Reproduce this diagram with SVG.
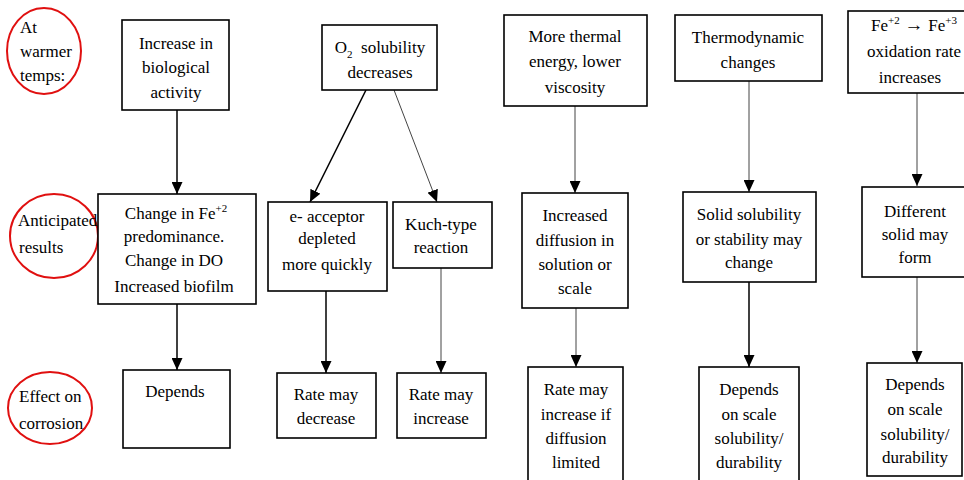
<svg xmlns="http://www.w3.org/2000/svg" width="964" height="480" viewBox="0 0 964 480">
<style>
.box{fill:#fff;stroke:#000;stroke-width:1.6}
.ring{fill:none;stroke:#e01010;stroke-width:2}
.t{font-family:"Liberation Serif","Times New Roman",serif;font-size:17px;fill:#000;text-anchor:middle}
.l{font-family:"Liberation Serif","Times New Roman",serif;font-size:17px;fill:#000;text-anchor:start}
.c{stroke:#000;stroke-width:1.5;fill:none;marker-end:url(#ah)}
.c2{stroke:#444;stroke-width:1;fill:none;marker-end:url(#ah)}
</style>
<defs>
<marker id="ah" markerUnits="userSpaceOnUse" markerWidth="12" markerHeight="11" refX="12" refY="5.5" orient="auto">
<path d="M0,0 L12,5.5 L0,11 z" fill="#000"/>
</marker>
</defs>
<rect width="964" height="480" fill="#fff"/>

<g id="connectors">
<line class="c" x1="177" y1="110" x2="177" y2="194"/>
<line class="c" x1="366" y1="90" x2="310" y2="202"/>
<line class="c2" x1="394" y1="90" x2="437" y2="202"/>
<line class="c2" x1="575" y1="106" x2="575" y2="193"/>
<line class="c2" x1="749" y1="81" x2="749" y2="192"/>
<line class="c2" x1="917" y1="93" x2="917" y2="186"/>
<line class="c" x1="177" y1="304" x2="177" y2="370"/>
<line class="c" x1="326" y1="291" x2="326" y2="373"/>
<line class="c2" x1="441" y1="268" x2="441" y2="373"/>
<line class="c2" x1="576" y1="308" x2="576" y2="367"/>
<line class="c" x1="749" y1="282" x2="749" y2="367"/>
<line class="c2" x1="917" y1="277" x2="917" y2="363"/>
</g>

<g id="label-warmer">
<ellipse class="ring" cx="44" cy="51" rx="37" ry="43"/>
<text class="l" x="20" y="33">At</text>
<text class="l" x="20" y="57">warmer</text>
<text class="l" x="20" y="81">temps:</text>
</g>
<g id="label-anticipated">
<ellipse class="ring" cx="54" cy="236" rx="44" ry="42"/>
<text class="l" x="18" y="226">Anticipated</text>
<text class="l" x="19" y="253">results</text>
</g>
<g id="label-effect">
<ellipse class="ring" cx="50" cy="408" rx="42" ry="36"/>
<text class="l" x="19" y="402">Effect on</text>
<text class="l" x="19" y="429">corrosion</text>
</g>

<g id="n-bio">
<rect class="box" x="122" y="20" width="107" height="90"/>
<text class="t" x="176" y="49">Increase in</text>
<text class="t" x="176" y="73">biological</text>
<text class="t" x="176" y="98">activity</text>
</g>
<g id="n-o2">
<rect class="box" x="322" y="25" width="115" height="65"/>
<text class="t" x="380" y="53">O<tspan font-size="11" dy="5">2</tspan><tspan dy="-5">&#160; solubility</tspan></text>
<text class="t" x="380" y="78">decreases</text>
</g>
<g id="n-thermal">
<rect class="box" x="504" y="15" width="143" height="91"/>
<text class="t" x="575" y="42">More thermal</text>
<text class="t" x="575" y="67">energy, lower</text>
<text class="t" x="575" y="93">viscosity</text>
</g>
<g id="n-thermo">
<rect class="box" x="675" y="15" width="147" height="66"/>
<text class="t" x="748" y="43">Thermodynamic</text>
<text class="t" x="748" y="68">changes</text>
</g>
<g id="n-oxid">
<rect class="box" x="848" y="11" width="120" height="82"/>
<text class="t" x="914" y="31">Fe<tspan font-size="11" dy="-7">+2</tspan><tspan dy="7" font-size="19"> → </tspan><tspan dy="0">Fe</tspan><tspan font-size="11" dy="-7">+3</tspan></text>
<text class="t" x="914" y="57">oxidation rate</text>
<text class="t" x="910" y="83">increases</text>
</g>

<g id="n-fe">
<rect class="box" x="98" y="194" width="158" height="110"/>
<text class="t" x="176" y="219">Change in Fe<tspan font-size="11" dy="-7">+2</tspan></text>
<text class="t" x="174" y="242">predominance.</text>
<text class="t" x="174" y="266">Change in DO</text>
<text class="t" x="174" y="292">Increased biofilm</text>
</g>
<g id="n-eacc">
<rect class="box" x="268" y="202" width="119" height="89"/>
<text class="t" x="327" y="222">e- acceptor</text>
<text class="t" x="327" y="244">depleted</text>
<text class="t" x="327" y="270">more quickly</text>
</g>
<g id="n-kuch">
<rect class="box" x="393" y="202" width="99" height="66"/>
<text class="t" x="441" y="230">Kuch-type</text>
<text class="t" x="441" y="253">reaction</text>
</g>
<g id="n-diff">
<rect class="box" x="522" y="193" width="106" height="115"/>
<text class="t" x="575" y="221">Increased</text>
<text class="t" x="575" y="246">diffusion in</text>
<text class="t" x="575" y="270">solution or</text>
<text class="t" x="575" y="294">scale</text>
</g>
<g id="n-solid">
<rect class="box" x="683" y="192" width="133" height="90"/>
<text class="t" x="749" y="220">Solid solubility</text>
<text class="t" x="749" y="245">or stability may</text>
<text class="t" x="749" y="268">change</text>
</g>
<g id="n-different">
<rect class="box" x="862" y="187" width="106" height="90"/>
<text class="t" x="915" y="217">Different</text>
<text class="t" x="915" y="240">solid may</text>
<text class="t" x="915" y="263">form</text>
</g>

<g id="n-depends1">
<rect class="box" x="123" y="370" width="107" height="78"/>
<text class="t" x="175" y="397">Depends</text>
</g>
<g id="n-decrease">
<rect class="box" x="277" y="373" width="99" height="65"/>
<text class="t" x="326" y="400">Rate may</text>
<text class="t" x="326" y="424">decrease</text>
</g>
<g id="n-increase">
<rect class="box" x="397" y="373" width="89" height="65"/>
<text class="t" x="441" y="400">Rate may</text>
<text class="t" x="441" y="424">increase</text>
</g>
<g id="n-ratediff">
<rect class="box" x="528" y="367" width="95" height="125"/>
<text class="t" x="576" y="395">Rate may</text>
<text class="t" x="576" y="420">increase if</text>
<text class="t" x="576" y="444">diffusion</text>
<text class="t" x="576" y="468">limited</text>
</g>
<g id="n-depends2">
<rect class="box" x="699" y="367" width="100" height="125"/>
<text class="t" x="749" y="395">Depends</text>
<text class="t" x="749" y="420">on scale</text>
<text class="t" x="749" y="444">solubility/</text>
<text class="t" x="749" y="468">durability</text>
</g>
<g id="n-depends3">
<rect class="box" x="867" y="363" width="95" height="113"/>
<text class="t" x="915" y="390">Depends</text>
<text class="t" x="915" y="415">on scale</text>
<text class="t" x="915" y="440">solubility/</text>
<text class="t" x="915" y="463">durability</text>
</g>
</svg>
